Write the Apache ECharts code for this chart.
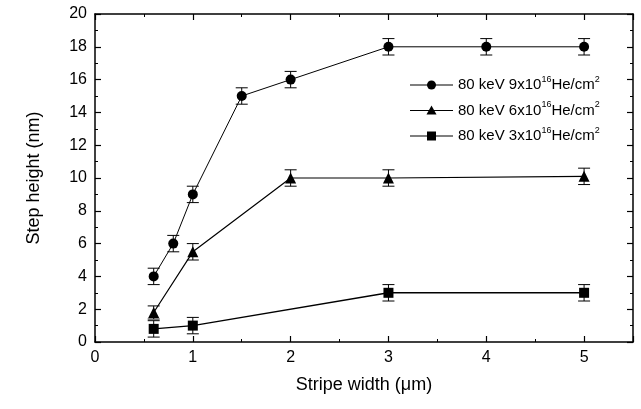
<!DOCTYPE html>
<html>
<head>
<meta charset="utf-8">
<script src="https://cdn.jsdelivr.net/npm/echarts@6/dist/echarts.min.js"></script>
<style>
  html, body { margin: 0; padding: 0; background: #fff; }
  #chart { width: 641px; height: 409px; }
</style>
</head>
<body>
<div id="chart"></div>
<script>
// Step height versus stripe width for three He+ fluences at 80 keV
const width9 = [0.6, 0.8, 1.0, 1.5, 2.0, 3.0, 4.0, 5.0];
const height9 = [4.0, 6.0, 9.0, 15.0, 16.0, 18.0, 18.0, 18.0];
const err9 = [0.5, 0.5, 0.5, 0.5, 0.5, 0.5, 0.5, 0.5];

const width6 = [0.6, 1.0, 2.0, 3.0, 5.0];
const height6 = [1.8, 5.5, 10.0, 10.0, 10.1];
const err6 = [0.4, 0.5, 0.5, 0.5, 0.5];

const width3 = [0.6, 1.0, 3.0, 5.0];
const height3 = [0.8, 1.0, 3.0, 3.0];
const err3 = [0.5, 0.5, 0.5, 0.5];

const seriesNames = ['80 keV 9x10', '80 keV 6x10', '80 keV 3x10'];
const xTicks = [0, 1, 2, 3, 4, 5];
const yTicks = [0, 2, 4, 6, 8, 10, 12, 14, 16, 18, 20];

const FONT = '"Liberation Sans", Arial, Helvetica, sans-serif';

function pairs(xs, ys) { return xs.map((x, i) => [x, ys[i]]); }
function errRows(xs, ys, es) { return xs.map((x, i) => [x, ys[i] - es[i], ys[i] + es[i]]); }

// vertical error bar with caps, positioned through the axis scales
function errorBar(params, api) {
  const x = api.value(0);
  const lo = api.coord([x, api.value(1)]);
  const hi = api.coord([x, api.value(2)]);
  const half = 6;
  const style = { stroke: '#000', lineWidth: 1, fill: null };
  return {
    type: 'group',
    children: [
      { type: 'line', shape: { x1: lo[0], y1: lo[1], x2: hi[0], y2: hi[1] }, style },
      { type: 'line', shape: { x1: lo[0] - half, y1: lo[1], x2: lo[0] + half, y2: lo[1] }, style },
      { type: 'line', shape: { x1: hi[0] - half, y1: hi[1], x2: hi[0] + half, y2: hi[1] }, style }
    ]
  };
}

const tickCommon = {
  axisLine: { show: true, onZero: false, lineStyle: { color: '#000', width: 1.5 } },
  axisTick: { show: true, inside: true, length: 6, lineStyle: { color: '#000', width: 1.2 } },
  minorTick: { show: true, splitNumber: 2, length: 3, lineStyle: { color: '#000', width: 1 } },
  splitLine: { show: false }
};

const xBase = Object.assign({ type: 'value', min: 0, max: 5.5, interval: 1 }, tickCommon);
const yBase = Object.assign({ type: 'value', min: 0, max: 20, interval: 2 }, tickCommon);

const chart = echarts.init(document.getElementById('chart'), null, { renderer: 'canvas' });

const option = {
  animation: false,
  backgroundColor: '#fff',
  grid: { left: 95, right: 8, top: 14, bottom: 67, containLabel: false },
  xAxis: [
    Object.assign({}, xBase, {
      position: 'bottom',
      name: 'Stripe width (\u03bcm)',
      nameLocation: 'middle',
      nameGap: 34,
      nameTextStyle: { fontFamily: FONT, fontSize: 18, color: '#000' },
      axisLabel: {
        fontFamily: FONT, fontSize: 16, color: '#000', margin: 8,
        formatter: v => (xTicks.indexOf(v) >= 0 ? String(v) : '')
      }
    }),
    Object.assign({}, xBase, { position: 'top', axisLabel: { show: false } })
  ],
  yAxis: [
    Object.assign({}, yBase, {
      position: 'left',
      name: 'Step height (nm)',
      nameLocation: 'middle',
      nameGap: 52,
      nameTextStyle: { fontFamily: FONT, fontSize: 18, color: '#000' },
      axisLabel: {
        fontFamily: FONT, fontSize: 16, color: '#000', margin: 8,
        formatter: v => (yTicks.indexOf(v) >= 0 ? String(v) : '')
      }
    }),
    Object.assign({}, yBase, { position: 'right', axisLabel: { show: false } })
  ],
  series: [
    { type: 'custom', renderItem: errorBar, data: errRows(width9, height9, err9), z: 3 },
    { type: 'custom', renderItem: errorBar, data: errRows(width6, height6, err6), z: 3 },
    { type: 'custom', renderItem: errorBar, data: errRows(width3, height3, err3), z: 3 },
    {
      name: seriesNames[0], type: 'line', data: pairs(width9, height9),
      symbol: 'circle', symbolSize: 10,
      lineStyle: { color: '#000', width: 1 }, itemStyle: { color: '#000' }, z: 4
    },
    {
      name: seriesNames[1], type: 'line', data: pairs(width6, height6),
      symbol: 'triangle', symbolSize: 11,
      lineStyle: { color: '#000', width: 1.2 }, itemStyle: { color: '#000' }, z: 4
    },
    {
      name: seriesNames[2], type: 'line', data: pairs(width3, height3),
      symbol: 'rect', symbolSize: 10,
      lineStyle: { color: '#000', width: 1.4 }, itemStyle: { color: '#000' }, z: 4
    }
  ]
};

// Legend: line-marker-line swatch followed by the fluence label with superscripts
const legendSymbols = ['circle', 'triangle', 'rect'];
const legendTop = 85, legendStep = 25.5, legendX = 410;
const graphics = [];
seriesNames.forEach((name, i) => {
  const y = legendTop + i * legendStep;
  graphics.push({
    type: 'line',
    shape: { x1: legendX, y1: y, x2: legendX + 43, y2: y },
    style: { stroke: '#000', lineWidth: 1.2 }
  });
  let shape;
  if (legendSymbols[i] === 'circle') {
    shape = { type: 'circle', shape: { cx: legendX + 21.5, cy: y, r: 4.5 } };
  } else if (legendSymbols[i] === 'triangle') {
    shape = { type: 'polygon', shape: { points: [[legendX + 21.5, y - 5], [legendX + 16.5, y + 4], [legendX + 26.5, y + 4]] } };
  } else {
    shape = { type: 'rect', shape: { x: legendX + 17, y: y - 4.5, width: 9, height: 9 } };
  }
  shape.style = { fill: '#000' };
  graphics.push(shape);
  graphics.push({
    type: 'text', left: legendX + 48, top: y - 10,
    style: {
      text: '{m|' + name + '}{s|16}{m|He/cm}{s|2}',
      rich: {
        m: { fontFamily: FONT, fontSize: 15, fill: '#000', lineHeight: 20 },
        s: { fontFamily: FONT, fontSize: 9, fill: '#000', verticalAlign: 'top', lineHeight: 20 }
      }
    }
  });
});
option.graphic = graphics;

chart.setOption(option);
</script>
</body>
</html>
